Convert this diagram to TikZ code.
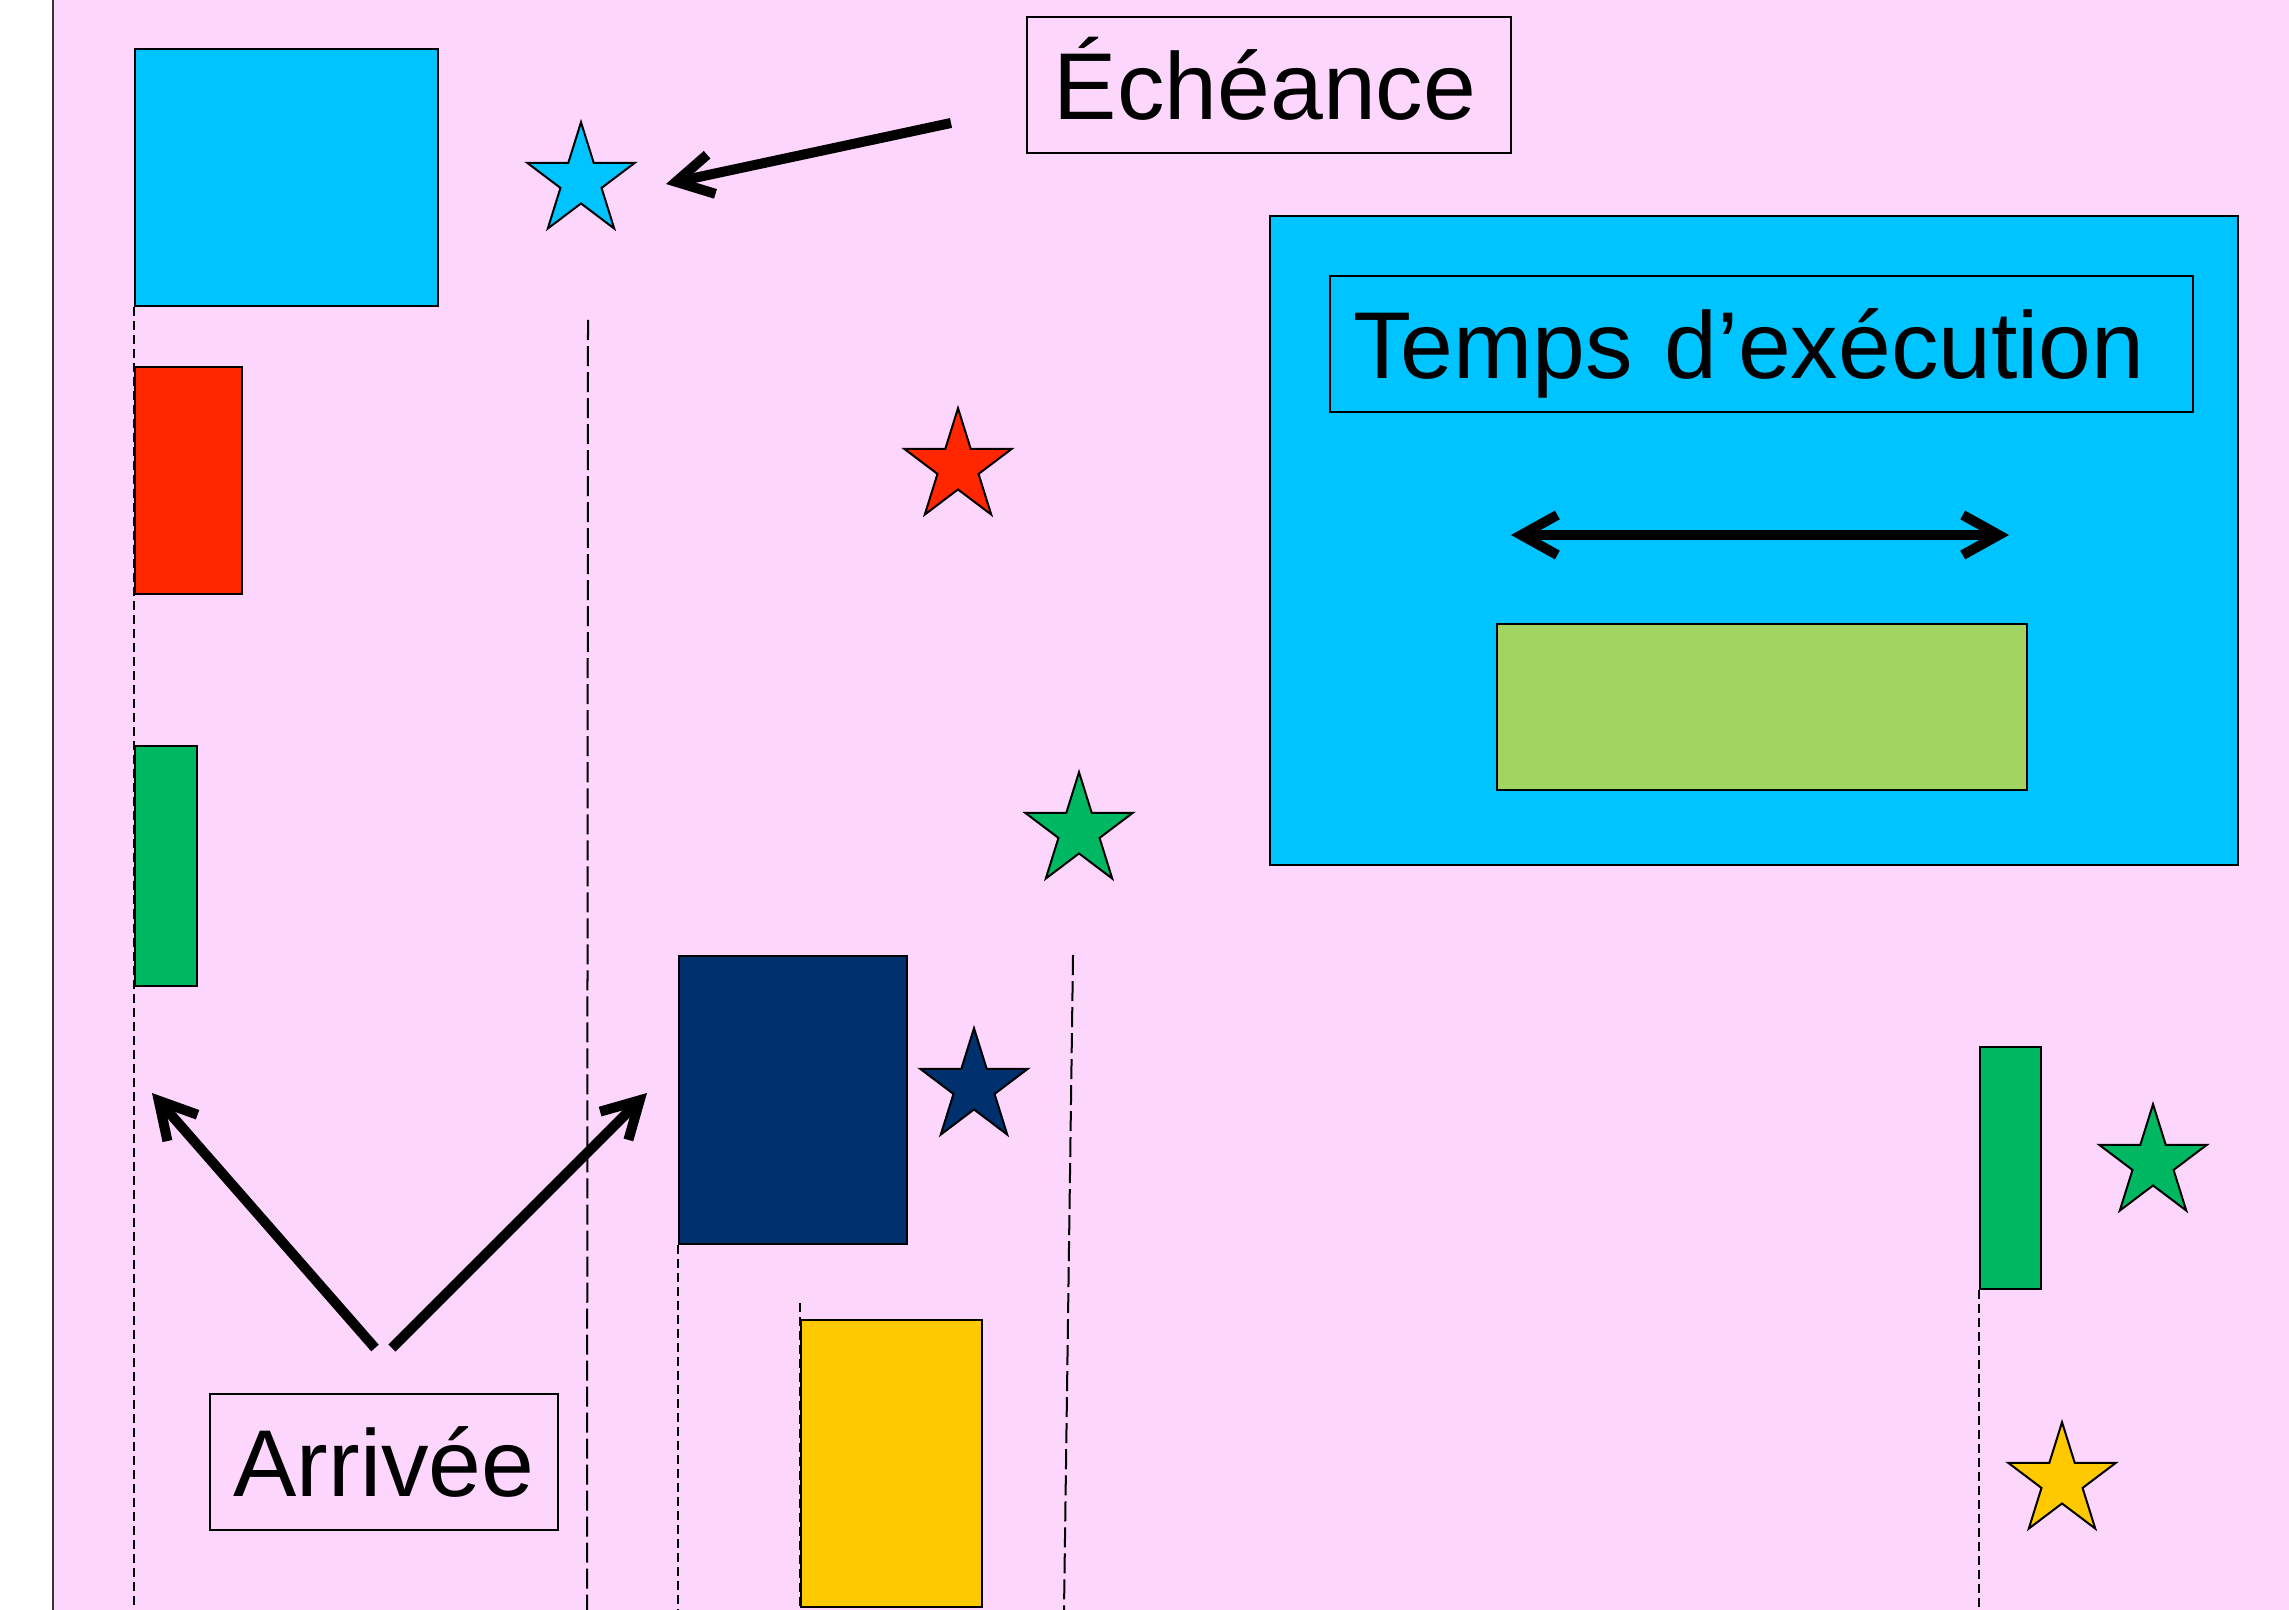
\documentclass[tikz,border=0pt]{standalone}
\usepackage{fontspec}
\setmainfont{Liberation Sans}
\usetikzlibrary{shapes.geometric,arrows.meta}
\pgfdeclarelayer{paper}
\pgfdeclarelayer{guides}
\pgfsetlayers{paper,guides,main}

\definecolor{bgpink}{HTML}{FCD6FC}
\definecolor{jobcyan}{HTML}{00C4FF}
\definecolor{jobred}{HTML}{FF2600}
\definecolor{jobgreen}{HTML}{00B862}
\definecolor{jobnavy}{HTML}{00306E}
\definecolor{jobyellow}{HTML}{FFC900}
\definecolor{barlime}{HTML}{A2D462}

\begin{document}
\begin{tikzpicture}[x=0.01cm,y=-0.01cm,
  block/.style={draw=black, line width=0.02cm, inner sep=0pt, anchor=north west},
  tag/.style={draw=black, line width=0.02cm, font=\fontsize{27}{32}\selectfont,
              text height=0.68cm, text depth=0pt, inner sep=0pt},
  deadline/.style={star, star points=5, star point ratio=2.618, draw=black,
                   line width=0.02cm, minimum size=1.13cm, inner sep=0pt, transform shape},
  barb/.tip={Straight Barb[length=0.36cm,width=0.40cm,line join=miter]},
  pointer/.style={line width=0.1cm, -barb},
  shortdash/.style={line width=0.02cm, dash pattern=on 0.09cm off 0.05cm},
  longdash/.style={line width=0.02cm, dash pattern=on 0.2cm off 0.06cm},
]
\useasboundingbox (0,0) rectangle (2289,1610);

% paper
\begin{pgfonlayer}{paper}
  \fill[white] (0,0) rectangle (53,1610);
  \fill[bgpink] (53,0) rectangle (2289,1610);
  \draw[line width=0.02cm, black!80] (53,0) -- (53,1610);
\end{pgfonlayer}

% jobs (execution blocks)
\node[block, fill=jobcyan, minimum width=3.03cm, minimum height=2.57cm] (cyanjob) at (134,48) {};
\node[block, fill=jobred, minimum width=1.07cm, minimum height=2.27cm] (redjob) at (134,366) {};
\node[block, fill=jobgreen, minimum width=0.62cm, minimum height=2.40cm] (greenjob) at (134,745) {};
\node[block, fill=jobnavy, minimum width=2.28cm, minimum height=2.88cm] (navyjob) at (678,955) {};
\node[block, fill=jobyellow, minimum width=1.81cm, minimum height=2.87cm] (yellowjob) at (800,1319) {};
\node[block, fill=jobgreen, minimum width=0.61cm, minimum height=2.42cm] (greenjobb) at (1979,1046) {};

% deadlines (stars slightly taller than wide)
\begin{scope}[shift={(581,181)}, yscale=1.04]
  \node[deadline, fill=jobcyan] (cyanstar) at (0,0) {};
\end{scope}
\begin{scope}[shift={(958,467)}, yscale=1.04]
  \node[deadline, fill=jobred] (redstar) at (0,0) {};
\end{scope}
\begin{scope}[shift={(1079,831)}, yscale=1.04]
  \node[deadline, fill=jobgreen] (greenstar) at (0,0) {};
\end{scope}
\begin{scope}[shift={(974,1087)}, yscale=1.04]
  \node[deadline, fill=jobnavy] (navystar) at (0,0) {};
\end{scope}
\begin{scope}[shift={(2153,1163)}, yscale=1.04]
  \node[deadline, fill=jobgreen] (greenstarb) at (0,0) {};
\end{scope}
\begin{scope}[shift={(2062,1481)}, yscale=1.04]
  \node[deadline, fill=jobyellow] (yellowstar) at (0,0) {};
\end{scope}

% legend for the execution time
\node[block, fill=jobcyan, minimum width=9.67cm, minimum height=6.49cm] (legend) at (1269,215) {};
\node[tag, anchor=north west, inner xsep=0.23cm, text width=8.165cm, align=left,
      minimum height=1.36cm] (exectag) at (1329,275) {Temps d’exécution};
\node[block, fill=barlime, minimum width=5.30cm, minimum height=1.66cm] (bar) at (1496,623) {};
\coordinate (spanL) at (1511,535);
\coordinate (spanR) at (2009,535);
\draw[line width=0.1cm, barb-barb] (spanL) -- (spanR);

% labels
\node[tag, inner xsep=0.27cm, text width=4.30cm, align=left,
      minimum height=1.36cm] (echeance) at (1269,85) {Échéance};
\node[tag, minimum width=3.48cm, minimum height=1.36cm] (arrivee) at (384,1462) {Arrivée};

% pointers
\coordinate (echTail) at (951,123);
\coordinate (echTip) at (666,184);
\draw[pointer] (echTail) -- (echTip);
\coordinate (arrTailL) at (375,1348);
\coordinate (arrTipL) at (152,1093);
\coordinate (arrTailR) at (392,1348);
\coordinate (arrTipR) at (647,1093);
\draw[pointer] (arrTailL) -- (arrTipL);
\draw[pointer] (arrTailR) -- (arrTipR);

% guide lines for arrivals and deadlines
\coordinate (cyanDlTop) at (588,320);
\coordinate (cyanDlBot) at (587,1610);
\coordinate (navyDlTop) at (1073,955);
\coordinate (navyDlBot) at (1064,1610);
\coordinate (yellowArrTop) at (800,1303);
\begin{pgfonlayer}{guides}
  \draw[shortdash] (cyanjob.south west) -- (134,1610);
  \draw[longdash] (cyanDlTop) -- (cyanDlBot);
  \draw[shortdash] (navyjob.south west) -- (678,1610);
  \draw[shortdash] (yellowArrTop) -- (800,1610);
  \draw[longdash] (navyDlTop) -- (navyDlBot);
  \draw[shortdash] (greenjobb.south west) -- (1979,1610);
\end{pgfonlayer}
\end{tikzpicture}
\end{document}
